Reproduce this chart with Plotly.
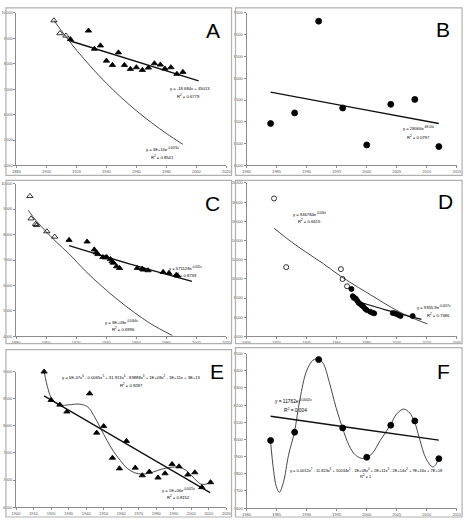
import plotly.graph_objects as go

W, H = 470, 521

# ---------------- Panel A ----------------
a_open_x = [1905, 1909, 1913]
a_open_y = [9701, 9195, 9104]
a_x = [1916, 1928, 1932, 1936, 1940, 1944, 1948, 1952, 1956, 1960, 1964, 1968, 1972, 1976, 1979, 1983, 1987, 1991]
a_y = [8961, 9299, 8584, 8714, 8117, 7948, 8442, 7948, 7792, 7857, 7753, 7844, 8013, 7961, 7805, 7857, 7597, 7675]
a_lin_x = [1916, 2001.5]
a_lin_y = [8896, 7325]
a_exp_x = [1905, 1920, 1940, 1960, 1980, 1991]
a_exp_y = [9700, 8541, 7232, 6150, 5256, 4831]

# ---------------- Panel B ----------------
b_x = [1984, 1988, 1992, 1996, 2000, 2004, 2008, 2012]
b_y = [6962, 7205, 9311, 7318, 6470, 7402, 7515, 6432]
b_tr_x = [1984, 1998, 2012]
b_tr_y = [7682, 7322, 6962]

# ---------------- Panel C ----------------
c_open_x = [1889.2, 1890.0, 1892.9, 1893.7, 1900.5, 1905.7]
c_open_y = [9507, 8626, 8406, 8367, 8121, 7913]
c_x = [1915.3, 1927.3, 1932.1, 1933.4, 1934.5, 1937.8, 1939.5, 1940.4, 1942.8, 1943.9, 1944.8,
       1946.9, 1948.9, 1960.7, 1964.0, 1964.8, 1967.9, 1977.9, 1981.8, 1986.6, 1987.5]
c_y = [7784, 7719, 7408, 7291, 7227, 7110, 7097, 7110, 7032, 6942, 6890,
       6747, 6682, 6682, 6656, 6618, 6592, 6527, 6488, 6410, 6384]
c_tr_x = [1915.3, 1956, 1997.1]
c_tr_y = [7564, 6840, 6164]
c_exp_x = [1888.1, 1893.5, 1900.1, 1906.6, 1915.3, 1926.2, 1937.1, 1948.0, 1958.9, 1969.8, 1984.0]
c_exp_y = [8950, 8535, 8108, 7719, 7240, 6566, 5970, 5425, 4933, 4492, 4039]

# ---------------- Panel D ----------------
d_open_x = [1918.3, 1926.4, 1962.8, 1963.9, 1966.9]
d_open_y = [18384, 11226, 11020, 9988, 9231]
d_x = [1969.8, 1970.7, 1971.7, 1972.8, 1973.7, 1974.6, 1975.7, 1976.8, 1977.8, 1978.9, 1980.0,
       1982.2, 1983.7, 1985.0, 1997.3, 1998.6, 1999.9, 2001.2, 2002.5, 2010.6]
d_y = [8955, 8198, 8061, 7923, 7716, 7510, 7372, 7235, 7097, 6891, 6753,
       6581, 6478, 6409, 6443, 6409, 6340, 6237, 6134, 6134]
d_exp_x = [1918.3, 1928.8, 1939.7, 1950.6, 1962.8, 1974.6, 1985.5, 1996.4, 2007.3, 2020.4]
d_exp_y = [15287, 13979, 12775, 11639, 10263, 9093, 8061, 7028, 6134, 5308]
d_tr_x = [1969.8, 1993.1, 2016.4]
d_tr_y = [7854, 6753, 5789]

# ---------------- Panel E ----------------
e_x = [1916, 1920, 1925, 1929, 1942, 1946, 1950, 1955, 1959, 1963, 1968,
       1972, 1976, 1981, 1985, 1989, 1993, 1998, 2002, 2006, 2011]
e_y = [9000, 8476, 8390, 8262, 8598, 7872, 7994, 7409, 7213, 7720, 7226,
       7085, 7152, 7043, 7122, 7293, 7250, 7098, 7140, 6866, 6957]
e_tr_x = [1916, 2010.7]
e_tr_y = [8555, 6768]
e_poly_x = [1916.0, 1918.3, 1920.5, 1924.8, 1930.4, 1936.0, 1940.7, 1944.4, 1948.2, 1951.9, 1955.6,
            1959.4, 1963.5, 1967.7, 1972.0, 1976.3, 1980.8, 1985.5, 1989.2, 1993.5, 1997.6,
            2001.3, 2005.1, 2007.9, 2010.7]
e_poly_y = [9000, 8677, 8494, 8384, 8390, 8402, 8354, 8189, 7957, 7732, 7530,
            7366, 7213, 7134, 7110, 7128, 7177, 7220, 7238, 7232, 7165,
            7043, 6933, 6921, 6957]

# ---------------- Panel F ----------------
f_x = [1984, 1988, 1992, 1996, 2000, 2004, 2008, 2012]
f_y = [7994, 8042, 8465, 8067, 7896, 8083, 8108, 7888]
f_tr_x = [1984, 1998, 2012]
f_tr_y = [8135, 8065, 7996]
f_poly_x = [1983.98, 1984.52, 1984.96, 1985.45, 1986.16, 1986.98, 1987.96, 1988.89, 1989.98, 1991.07,
            1991.88, 1992.70, 1993.79, 1994.88, 1995.97, 1997.06, 1998.15, 1999.52, 2000.88, 2002.24,
            2003.93, 2004.97, 2006.17, 2007.15, 2007.91, 2008.78, 2009.88, 2010.97, 2011.51, 2011.89]
f_poly_y = [7994, 7812, 7725, 7692, 7754, 7908, 8042, 8235, 8398, 8462,
            8469, 8446, 8331, 8187, 8067, 7965, 7908, 7888, 7917, 7994,
            8083, 8148, 8177, 8154, 8108, 8004, 7888, 7840, 7854, 7888]

FONT = "Liberation Sans"

# panel layout in pixel coordinates: plot area (x0,x1,y0top,y1bottom), axis ranges, borders
panels = [
    dict(k="", xd=(12.7, 226.7), yd=(10, 164), xr=(1880, 2020), xdt=20, yr=(4000, 10000), ydt=1000, box=(2, 232, 5, 174)),
    dict(k="2", xd=(247.3, 461.7), yd=(10, 164), xr=(1980, 2015), xdt=5, yr=(6000, 9500), ydt=500, box=(236, 467, 5, 174)),
    dict(k="3", xd=(12.3, 226.7), yd=(182.3, 336.7), xr=(1880, 2020), xdt=20, yr=(4000, 10000), ydt=1000, box=(2, 232, 179, 344)),
    dict(k="4", xd=(247.3, 461.7), yd=(181.7, 336.7), xr=(1900, 2040), xdt=20, yr=(4000, 20000), ydt=2000, box=(236, 467, 179, 344)),
    dict(k="5", xd=(12.3, 226.7), yd=(372.3, 509), xr=(1900, 2020), xdt=10, yr=(6500, 9000), ydt=500, box=(2, 232, 350, 519)),
    dict(k="6", xd=(247.3, 461.7), yd=(354, 510), xr=(1980, 2015), xdt=5, yr=(7600, 8500), ydt=100, box=(236, 467, 348, 519)),
]

fig = go.Figure()
layout = {}
shapes = []
for p in panels:
    k = p["k"]
    axstyle = dict(showgrid=False, zeroline=False, showline=True, linecolor="#8c8c8c", linewidth=1,
                   ticks="outside", ticklen=2, tickcolor="#8c8c8c", tickwidth=1,
                   tickfont=dict(family=FONT, size=4, color="#555555"), tickformat="d")
    layout["xaxis" + k] = dict(axstyle, domain=[p["xd"][0] / W, p["xd"][1] / W], range=list(p["xr"]),
                               dtick=p["xdt"], tick0=p["xr"][0], anchor="y" + k)
    layout["yaxis" + k] = dict(axstyle, domain=[1 - p["yd"][1] / H, 1 - p["yd"][0] / H], range=list(p["yr"]),
                               dtick=p["ydt"], tick0=p["yr"][0], anchor="x" + k)
    x0, x1, y0, y1 = p["box"]
    shapes.append(dict(type="rect", xref="paper", yref="paper", x0=x0 / W, x1=x1 / W,
                       y0=1 - y1 / H, y1=1 - y0 / H, line=dict(color="#b0b0b0", width=1.2)))


def pts(x, y, ax, symbol, size=5.5):
    fig.add_trace(go.Scatter(x=x, y=y, mode="markers", xaxis="x" + ax, yaxis="y" + ax, cliponaxis=False,
                             marker=dict(symbol=symbol, size=size, color="black",
                                         line=dict(color="black", width=0.8))))


def curve(x, y, ax, width=1.0, color="#222222"):
    fig.add_trace(go.Scatter(x=x, y=y, mode="lines", xaxis="x" + ax, yaxis="y" + ax, cliponaxis=False,
                             line=dict(shape="spline", smoothing=1.0, color=color, width=width)))


# A
curve(a_exp_x, a_exp_y, "", 0.9, "#333333")
curve(a_lin_x, a_lin_y, "", 1.4, "#111111")
pts(a_open_x, a_open_y, "", "triangle-up-open")
pts(a_x, a_y, "", "triangle-up")
# B
curve(b_tr_x, b_tr_y, "2", 1.4, "#111111")
pts(b_x, b_y, "2", "circle", 6)
# C
curve(c_exp_x, c_exp_y, "3", 0.9, "#333333")
curve(c_tr_x, c_tr_y, "3", 1.4, "#111111")
pts(c_open_x, c_open_y, "3", "triangle-up-open")
pts(c_x, c_y, "3", "triangle-up")
# D
curve(d_exp_x, d_exp_y, "4", 0.9, "#333333")
curve(d_tr_x, d_tr_y, "4", 1.2, "#111111")
pts(d_open_x, d_open_y, "4", "circle-open", 5)
pts(d_x, d_y, "4", "circle", 5)
# E
curve(e_poly_x, e_poly_y, "5", 0.9, "#333333")
curve(e_tr_x, e_tr_y, "5", 1.3, "#111111")
pts(e_x, e_y, "5", "triangle-up")
# F
curve(f_poly_x, f_poly_y, "6", 0.9, "#333333")
curve(f_tr_x, f_tr_y, "6", 1.4, "#111111")
pts(f_x, f_y, "6", "circle", 6)

# annotations (pixel positions)
texts = [
    ("A", 213, 28, 21), ("B", 447.7, 27, 21), ("C", 213, 202, 21),
    ("D", 450, 200, 21), ("E", 216.7, 372.3, 21), ("F", 447.7, 372.3, 21),
    ("y = -18.684x + 45013", 190, 86, 4.2), ("R<sup>2</sup> = 0.6779", 188, 93.5, 4.2),
    ("y = 3E+10e<sup>-0.0076x</sup>", 162, 147, 4.2), ("R<sup>2</sup> = 0.8541", 162, 155, 4.2),
    ("y = 28066e<sup>-6E-04x</sup>", 422.7, 126.7, 4.2), ("R<sup>2</sup> = 0.0797", 422.7, 135, 4.2),
    ("y = 571128e<sup>-0.002x</sup>", 185, 267.7, 4.2), ("R<sup>2</sup> = 0.8739", 185, 275, 4.2),
    ("y = 3E+09e<sup>-0.0066x</sup>", 120, 321.7, 4.2), ("R<sup>2</sup> = 0.6996", 122, 329, 4.2),
    ("y = 946784e<sup>-0.006x</sup>", 311.7, 212.7, 4.2), ("R<sup>2</sup> = 0.6615", 311.7, 220, 4.2),
    ("y = 9355.9e<sup>-0.0057x</sup>", 438.3, 307.3, 4.2), ("R<sup>2</sup> = 0.7386", 443.3, 315.3, 4.2),
    ("y = 5E-07x<sup>6</sup> - 0.0065x<sup>5</sup> + 31.913x<sup>4</sup> - 83888x<sup>3</sup> + 1E+08x<sup>2</sup> - 1E+11x + 3E+13",
     130, 377.7, 4.2),
    ("R<sup>2</sup> = 0.9287", 130, 385.7, 4.2),
    ("y = 1E+06e<sup>-0.0025x</sup>", 178.3, 491.7, 4.2), ("R<sup>2</sup> = 0.8152", 178.3, 499, 4.2),
    ("y = 11762e<sup>-0.0002x</sup>", 295, 402.3, 4.8), ("R<sup>2</sup> = 0.004", 296.7, 411, 4.8),
    ("y = 0.0012x<sup>7</sup> - 11.823x<sup>6</sup> + 50034x<sup>5</sup> - 1E+08x<sup>4</sup> + 2E+11x<sup>3</sup> - 2E+14x<sup>2</sup> + 7E+16x + 7E+18",
     369.3, 471.7, 4),
    ("R<sup>2</sup> = 1", 369.3, 477.5, 4),
]
annotations = []
for t, x, y, s in texts:
    annotations.append(dict(text=t, x=x / W, y=1 - y / H, xref="paper", yref="paper", showarrow=False,
                            xanchor="center", yanchor="middle",
                            font=dict(family=FONT, size=s, color="black")))

fig.update_layout(width=W, height=H, margin=dict(l=0, r=0, t=0, b=0), paper_bgcolor="white",
                  plot_bgcolor="white", showlegend=False, shapes=shapes, annotations=annotations,
                  font=dict(family=FONT), **layout)
fig.write_html("out.html")
